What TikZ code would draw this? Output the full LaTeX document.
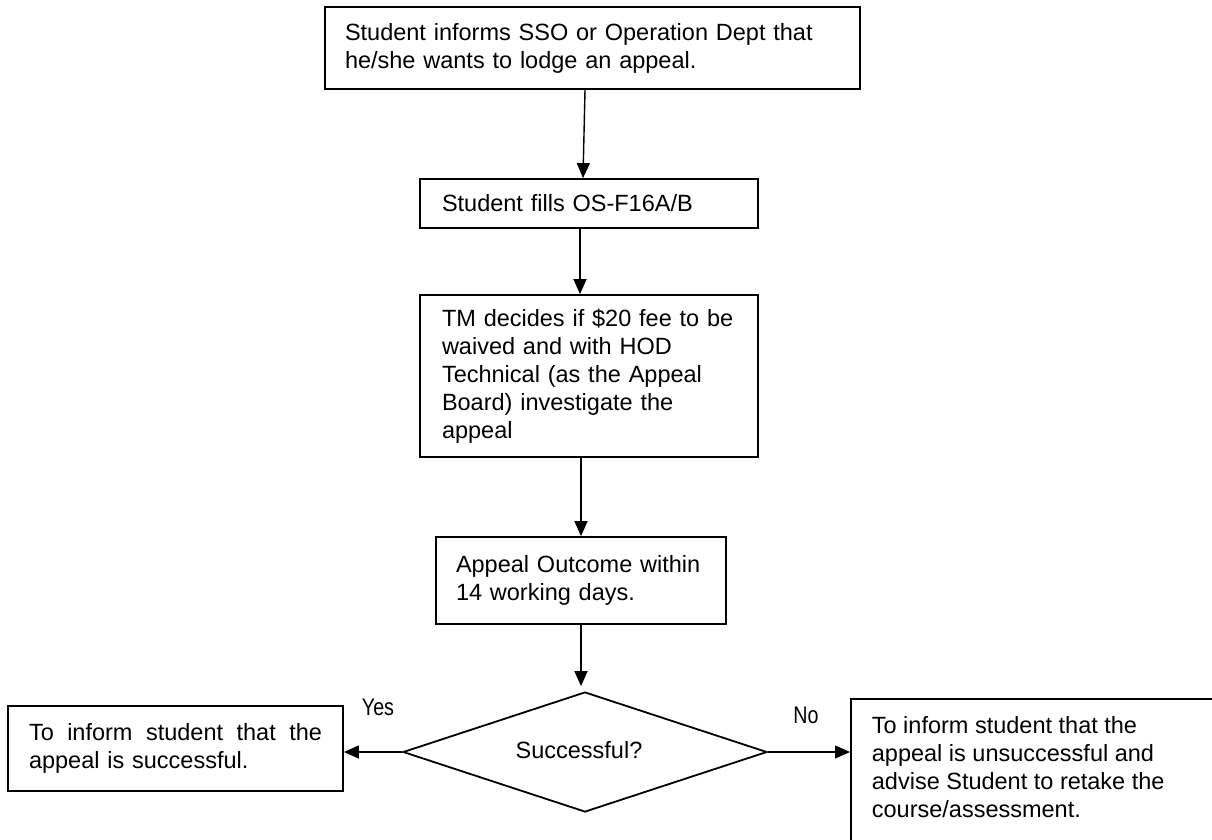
\documentclass[tikz,border=0pt]{standalone}
\usepackage{fontspec}
\setmainfont{Liberation Sans}
\newfontfamily\narrowfont[FakeStretch=0.82]{Liberation Sans}
\usetikzlibrary{arrows.meta,shapes.geometric}
\begin{document}
\begin{tikzpicture}[x=1pt,y=1pt,
  box/.style={draw,line width=1.8pt,inner sep=0pt,align=left,
    font=\fontsize{23.5}{28}\selectfont},
  arr/.style={line width=1.4pt,-{Triangle[length=15pt,width=13pt]}},
  lbl/.style={font=\narrowfont\fontsize{24}{28}\selectfont,inner sep=0pt}]
\useasboundingbox (0,0) rectangle (1212,-839);
\node[box,minimum width=535pt,minimum height=82pt,text width=495pt] (top) at (592.5,-48)
  {Student informs SSO or Operation Dept that\\he/she wants to lodge an appeal.};
\node[box,minimum width=338pt,minimum height=49pt,text width=294pt] (fills) at (589,-203.5)
  {Student fills OS-F16A/B};
\node[box,minimum width=338pt,minimum height=162pt,text width=294pt] (tm) at (589,-376)
  {TM decides if \$20 fee to be\\waived and with HOD\\Technical (as the Appeal\\Board) investigate the\\appeal};
\node[box,minimum width=290pt,minimum height=87pt,text width=250pt] (outcome) at (581,-580.5)
  {Appeal Outcome within\\14 working days.};
\node[draw,line width=1.8pt,shape=diamond,aspect=3.03,minimum width=364pt,minimum height=120pt,inner sep=0pt,
  font=\fontsize{23.5}{28}\selectfont] (dia) at (585,-752)
  {\raisebox{4pt}{Successful?}\kern12pt\null};
\node[box,minimum width=335pt,minimum height=85pt,text width=293pt] (yes) at (175.5,-748.5)
  {\makebox[293pt][s]{To\hfill inform\hfill student\hfill that\hfill the}\\appeal is successful.};
\node[box,anchor=north west,minimum width=420pt,inner xsep=21pt,inner ysep=18pt] (no) at (850,-698)
  {\parbox[t][190pt][t]{378pt}{\raggedright To inform student that the\\appeal is unsuccessful and\\advise Student to retake the\\course/assessment.}};
\node[lbl] (yeslbl) at (378,-707) {Yes};
\node[lbl] (nolbl) at (806,-715) {No};
\draw[arr] ([xshift=-7.5pt]top.south) -- ([xshift=-6pt]fills.north);
\draw[arr] ([xshift=-9pt]fills.south) -- ([xshift=-9pt]tm.north);
\draw[arr] (tm.south -| outcome.north) -- (outcome.north);
\draw[arr] (outcome.south) -- ([yshift=5pt]outcome.south |- dia.north);
\draw[arr] (dia.west) -- (dia.west -| yes.east);
\draw[arr] (dia.east) -- (dia.east -| no.west);
\end{tikzpicture}
\end{document}
